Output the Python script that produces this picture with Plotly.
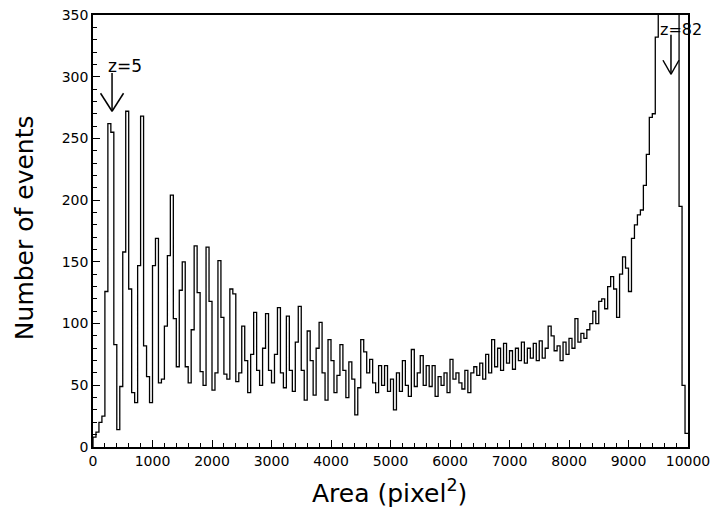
import plotly.graph_objects as go

# Histogram: bin width 50 in area (pixel^2), 0..10000
bin_width = 50
counts = [
    8, 12, 20, 25, 126, 262, 255, 83, 14, 49,
    158, 272, 128, 44, 36, 147, 268, 82, 57, 36,
    147, 169, 52, 55, 98, 155, 204, 104, 65, 127,
    150, 65, 52, 95, 163, 125, 61, 50, 162, 118,
    46, 60, 151, 105, 59, 55, 128, 124, 53, 60,
    98, 70, 44, 75, 109, 62, 50, 80, 108, 62,
    52, 75, 113, 60, 48, 106, 62, 45, 85, 114,
    62, 38, 94, 70, 42, 80, 101, 60, 38, 87,
    70, 44, 58, 83, 62, 40, 69, 55, 26, 48,
    87, 77, 60, 71, 52, 44, 66, 50, 66, 45,
    55, 30, 60, 45, 70, 50, 41, 79, 49, 60,
    74, 50, 66, 49, 66, 41, 57, 50, 60, 44,
    71, 55, 60, 52, 47, 62, 44, 60, 65, 58,
    68, 55, 75, 60, 87, 65, 80, 62, 84, 68,
    78, 63, 80, 70, 85, 68, 80, 72, 84, 70,
    86, 72, 80, 98, 90, 78, 82, 70, 85, 75,
    88, 80, 104, 85, 92, 88, 95, 100, 110, 100,
    118, 120, 112, 130, 138, 128, 105, 140, 154, 145,
    126, 169, 180, 188, 192, 212, 237, 267, 270, 332,
    400, 400, 400, 400, 400, 400, 400, 195, 50, 11,
]
x_ticks = [0, 1000, 2000, 3000, 4000, 5000, 6000, 7000, 8000, 9000, 10000]
y_ticks = [0, 50, 100, 150, 200, 250, 300, 350]

# annotation arrows: (label, tip x, tip y, tail y, label x, label y)
arrows = [
    ("z=5", 320, 272, 303, 540, 309),
    ("z=82", 9714, 302, 334, 9880, 338),
]

X_RANGE = [0, 10000]
Y_RANGE = [0, 350]
W, H = 712, 513
ML, MR, MT, MB = 93, 24, 15, 66
px_x = (X_RANGE[1] - X_RANGE[0]) / (W - ML - MR)
px_y = (Y_RANGE[1] - Y_RANGE[0]) / (H - MT - MB)

edges = [i * bin_width for i in range(len(counts) + 1)]
xs = [0] + edges
ys = [0] + counts + [counts[-1]]

fig = go.Figure()
fig.add_trace(go.Scatter(
    x=xs, y=ys, mode="lines", line=dict(shape="hv", color="black", width=1.3),
    showlegend=False, hoverinfo="skip",
))

tickfont = dict(family="DejaVu Sans, sans-serif", size=14, color="black")
fig.update_xaxes(
    range=X_RANGE, tickvals=x_ticks, ticktext=[str(v) for v in x_ticks],
    ticks="inside", ticklen=7, tickwidth=1.2, tickcolor="black",
    minor=dict(dtick=200, ticks="inside", ticklen=4, tickcolor="black", tickwidth=1),
    showline=True, linecolor="black", linewidth=1.5, mirror=True,
    showgrid=False, zeroline=False, tickfont=tickfont, automargin=False,
)
fig.update_yaxes(
    range=Y_RANGE, tickvals=y_ticks, ticktext=[str(v) for v in y_ticks],
    ticks="inside", ticklen=7, tickwidth=1.2, tickcolor="black",
    minor=dict(dtick=10, ticks="inside", ticklen=4, tickcolor="black", tickwidth=1),
    showline=True, linecolor="black", linewidth=1.5, mirror=True,
    showgrid=False, zeroline=False, tickfont=tickfont, automargin=False,
)

shapes = []
annotations = []
head_sizes = [(11.5, 18), (8, 14)]
fonts = [17, 16]
for (label, tx, ty, tail, lx, ly), (hw, hh), fs in zip(arrows, head_sizes, fonts):
    line = dict(color="black", width=1.5)
    shapes.append(dict(type="line", xref="x", yref="y", x0=tx, y0=ty, x1=tx, y1=tail, line=line))
    shapes.append(dict(type="line", xref="x", yref="y", x0=tx, y0=ty,
                       x1=tx - hw * px_x, y1=ty + hh * px_y, line=line))
    shapes.append(dict(type="line", xref="x", yref="y", x0=tx, y0=ty,
                       x1=tx + hw * px_x, y1=ty + hh * px_y, line=line))
    annotations.append(dict(x=lx, y=ly, xref="x", yref="y", text=label, showarrow=False,
                            xanchor="center", yanchor="middle",
                            font=dict(family="DejaVu Sans, sans-serif", size=fs, color="black")))

titlefont = dict(family="DejaVu Sans, sans-serif", size=25, color="black")
annotations += [
    dict(x=-0.114, y=0.507, xref="paper", yref="paper", text="Number of events",
         textangle=-90, showarrow=False, xanchor="center", yanchor="middle", font=titlefont),
    dict(x=0.499, y=-0.102, xref="paper", yref="paper", text="Area (pixel<sup>2</sup>)",
         showarrow=False, xanchor="center", yanchor="middle", font=titlefont),
]

fig.update_layout(
    width=W, height=H,
    margin=dict(l=ML, r=MR, t=MT, b=MB),
    paper_bgcolor="white", plot_bgcolor="white",
    shapes=shapes, annotations=annotations,
)

fig.write_html("out.html")
